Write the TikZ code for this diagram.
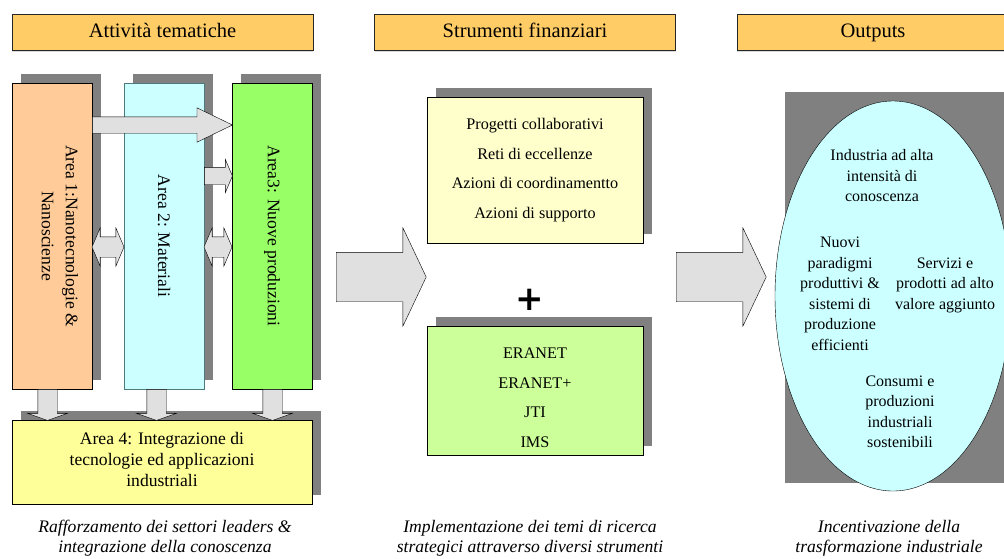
\documentclass[tikz,border=0pt]{standalone}
\usepackage{fontspec}
\setmainfont{Liberation Serif}
\newfontfamily\plusfont{DejaVu Sans}
\usepackage{tikz}
\usetikzlibrary{shapes.geometric,shapes.arrows,shadows,positioning}

\definecolor{hdrorange}{HTML}{FFCC66}
\definecolor{peach}{HTML}{FFCC99}
\definecolor{lightcyan}{HTML}{CCFFFF}
\definecolor{limegreen}{HTML}{99FF66}
\definecolor{paleyellow}{HTML}{FFFF99}
\definecolor{cream}{HTML}{FFFFCC}
\definecolor{palegreen}{HTML}{CCFF99}
\definecolor{shadowgray}{HTML}{808080}
\definecolor{arrowgray}{HTML}{E0E0E0}
\definecolor{tealedge}{HTML}{4D7A7A}

\tikzset{
  header/.style={draw=black!85, fill=hdrorange, minimum width=301pt, minimum height=36pt,
    inner sep=0pt, text height=14pt, text depth=4pt, font=\fontsize{20.5}{24}\selectfont,
    drop shadow={shadow xshift=0pt, shadow yshift=-2pt, opacity=1, fill=black!15}},
  areabox/.style={draw=black, minimum width=80pt, minimum height=306pt, inner sep=0pt,
    drop shadow={shadow xshift=9pt, shadow yshift=9pt, opacity=1, fill=shadowgray}},
  arealbl/.style={rotate=-90, align=center, inner sep=0pt, font=\fontsize{17.6}{24}\selectfont},
  listbox/.style={draw=black, minimum width=216pt, minimum height=146pt, align=center,
    font=\fontsize{16.2}{29.5}\selectfont,
    drop shadow={shadow xshift=9pt, shadow yshift=9pt, opacity=1, fill=shadowgray}},
  outtext/.style={align=center, inner sep=0pt, font=\fontsize{16}{20.5}\selectfont},
  caption/.style={align=center, inner sep=0pt, font=\fontsize{17.6}{20}\selectfont\itshape},
  fatarrow/.style={single arrow, draw=black, fill=arrowgray, inner sep=0pt, anchor=tail},
  twinarrow/.style={double arrow, draw=black, fill=arrowgray, inner xsep=0pt, inner ysep=10pt,
    double arrow head extend=9pt, double arrow tip angle=134},
  downarrow/.style={fatarrow, rotate=-90, minimum height=31pt, inner ysep=9.5pt,
    single arrow head extend=10pt, single arrow tip angle=141},
  bigarrow/.style={fatarrow, minimum height=90pt, inner ysep=24.5pt,
    single arrow head extend=24.5pt, single arrow tip angle=129.3}
}

\begin{document}
\begin{tikzpicture}[x=1pt, y=-1pt]
\useasboundingbox (0,0) rectangle (1004,558);
\clip (0,0) rectangle (1004,558);

% intestazioni
\node[header] (hdr1) at (162.5,32) {Attivit\`a tematiche};
\node[header] (hdr2) at (525,32) {Strumenti finanziari};
\node[header, minimum width=272pt] (hdr3) at (873,32) {Outputs};

% attivita tematiche
\node[areabox, fill=peach, label={[xshift=8pt, arealbl]center:{Area 1:Nanotecnologie \&\\Nanoscienze}}] (area1) at (52,236) {};
\node[areabox, fill=lightcyan, draw=tealedge, label={[arealbl]center:{Area 2: Materiali}}] (area2) at (164,236) {};
\node[areabox, fill=limegreen, label={[arealbl]center:{Area3: Nuove produzioni}}] (area3) at (272,236) {};
\node[areabox, fill=paleyellow, minimum width=300pt, minimum height=84pt,
  label={[yshift=3pt, align=center, font=\fontsize{17.6}{21}\selectfont]center:{Area 4: Integrazione di\\tecnologie ed applicazioni\\industriali}}]
  (area4) at (162,462) {};

\node[fatarrow, minimum height=140pt, inner ysep=8pt, single arrow head extend=9pt,
  single arrow tip angle=51.8] (a13) at (area1.east |- 0,125) {};
\node[fatarrow, minimum height=28pt, inner ysep=8.5pt, single arrow head extend=8pt,
  single arrow tip angle=134] (a23) at (area2.east |- 0,176) {};
\node[twinarrow, minimum height=32pt] (d12) at (108,247) {};
\node[twinarrow, minimum height=28pt] (d23) at (218,247) {};
\node[downarrow] (down1) at (area1.south -| 47.5,0) {};
\node[downarrow] (down2) at (area2.south -| 156.5,0) {};
\node[downarrow] (down3) at (area3.south -| 272.5,0) {};

% strumenti finanziari
\node[listbox, fill=cream] (tools1) at (535,170)
  {Progetti collaborativi\\Reti di eccellenze\\Azioni di coordinamentto\\Azioni di supporto};
\node[inner sep=0pt, font=\plusfont\bfseries\fontsize{34}{34}\selectfont] (plus) at (530,300) {+};
\node[listbox, fill=palegreen, minimum height=129pt,
  label={[yshift=-7pt, align=center, font=\fontsize{16.2}{29.5}\selectfont]center:{ERANET\\ERANET+\\JTI\\IMS}}]
  (tools2) at (535,390.5) {};

% outputs
\fill[shadowgray] (785,92) rectangle (1010,483);
\node[ellipse, draw=black, fill=lightcyan, minimum width=236pt, minimum height=390pt] (cloud) at (893,296) {};
\node[outtext] (out1) at (882,176) {Industria ad alta\\intensit\`a di\\conoscenza};
\node[outtext] (out2) at (840,294) {Nuovi\\paradigmi\\produttivi \&\\sistemi di\\produzione\\efficienti};
\node[outtext] (out3) at (945,285) {Servizi e\\prodotti ad alto\\valore aggiunto};
\node[outtext] (out4) at (900,412) {Consumi e\\produzioni\\industriali\\sostenibili};

\node[bigarrow] (toTools) at (336,277) {};
\node[bigarrow] (toOut) at (676,277) {};

% didascalie
\node[caption] (cap1) at (165,538) {Rafforzamento dei settori leaders \&\\integrazione della conoscenza};
\node[caption] (cap2) at (530,538) {Implementazione dei temi di ricerca\\strategici attraverso diversi strumenti};
\node[caption] (cap3) at (889,538) {Incentivazione della\\trasformazione industriale};
\end{tikzpicture}
\end{document}
